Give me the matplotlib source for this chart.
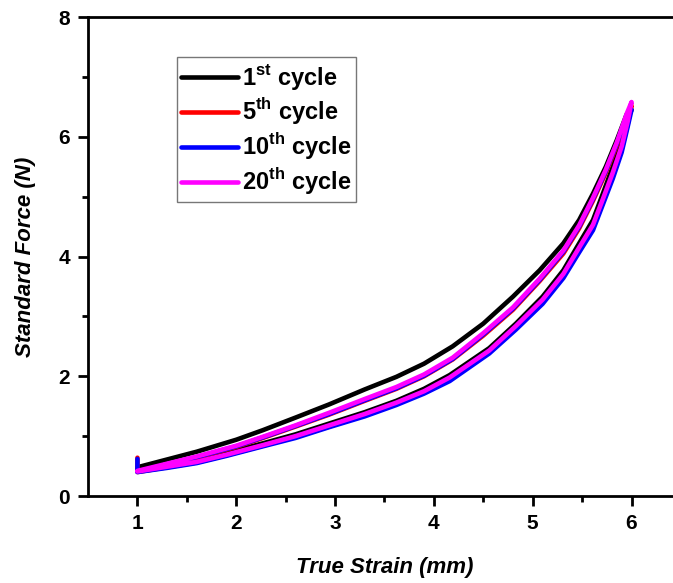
import numpy as np
import matplotlib
matplotlib.use('Agg')
import matplotlib.pyplot as plt

plt.rcParams['font.family'] = ['Liberation Sans', 'DejaVu Sans']
plt.rcParams['mathtext.fontset'] = 'custom'
plt.rcParams['mathtext.bf'] = 'Liberation Sans:bold'
plt.rcParams['mathtext.rm'] = 'Liberation Sans:bold'

# strain grid for the upper branch (going out) and the lower branch (coming back)
strain_up = [1.0, 1.3, 1.6, 2.0, 2.27, 2.6, 2.94, 3.3, 3.62, 3.9, 4.19, 4.5,
             4.8, 5.07, 5.31, 5.47, 5.61, 5.74, 5.85, 5.95, 6.0]
strain_down = [6.0, 5.96, 5.90, 5.81, 5.71, 5.61, 5.47, 5.31, 5.10, 4.83, 4.56,
               4.16, 3.9, 3.62, 3.3, 2.94, 2.6, 2.27, 1.9, 1.6, 1.3, 1.0]

# force readings (N)
c1_up = [0.48, 0.61, 0.74, 0.94, 1.10, 1.31, 1.53, 1.78, 1.99, 2.21, 2.50, 2.88,
         3.33, 3.77, 4.22, 4.61, 5.05, 5.50, 5.94, 6.37, 6.45]
c1_down = [6.45, 6.33, 5.94, 5.50, 5.05, 4.61, 4.22, 3.77, 3.33, 2.88, 2.47,
           2.02, 1.79, 1.59, 1.40, 1.21, 1.03, 0.88, 0.72, 0.60, 0.52, 0.44]

c5_up = [0.41, 0.52, 0.64, 0.82, 0.97, 1.16, 1.36, 1.59, 1.79, 2.00, 2.28, 2.68,
         3.11, 3.59, 4.05, 4.47, 4.93, 5.40, 5.85, 6.33, 6.52]
c5_down = [6.52, 6.20, 5.79, 5.35, 4.91, 4.48, 4.11, 3.67, 3.24, 2.81, 2.40,
           1.95, 1.73, 1.54, 1.35, 1.16, 0.99, 0.84, 0.68, 0.56, 0.48, 0.40]

c10_up = [0.41, 0.53, 0.65, 0.83, 0.98, 1.17, 1.37, 1.60, 1.80, 2.01, 2.29, 2.70,
          3.13, 3.61, 4.08, 4.50, 4.96, 5.43, 5.88, 6.35, 6.45]
c10_down = [6.45, 6.16, 5.74, 5.30, 4.87, 4.44, 4.07, 3.64, 3.21, 2.78, 2.38,
            1.92, 1.71, 1.52, 1.33, 1.15, 0.97, 0.83, 0.67, 0.55, 0.47, 0.40]

c20_up = [0.42, 0.54, 0.66, 0.84, 0.99, 1.18, 1.39, 1.62, 1.82, 2.03, 2.31, 2.72,
          3.15, 3.63, 4.10, 4.52, 4.98, 5.45, 5.90, 6.38, 6.58]
c20_down = [6.58, 6.25, 5.84, 5.40, 4.96, 4.53, 4.15, 3.71, 3.28, 2.84, 2.43,
            1.98, 1.75, 1.56, 1.37, 1.18, 1.00, 0.85, 0.69, 0.57, 0.49, 0.41]

# little jump at the end of the 5th and 10th cycles
c5_end = 0.64
c10_end = 0.62

labels = [r'1$^{\mathbf{st}}$ cycle', r'5$^{\mathbf{th}}$ cycle',
          r'10$^{\mathbf{th}}$ cycle', r'20$^{\mathbf{th}}$ cycle']
colors = ['black', 'red', 'blue', 'magenta']

fig = plt.figure(figsize=(6.73, 5.83), dpi=100)
ax = fig.add_axes([0.1308, 0.1492, 0.881, 0.8216])

cycles = [(c1_up, c1_down, None), (c5_up, c5_down, c5_end),
          (c10_up, c10_down, c10_end), (c20_up, c20_down, None)]
for (up, down, end), col, lab in zip(cycles, colors, labels):
    x = list(strain_up) + list(strain_down)
    y = list(up) + list(down)
    if end is not None:
        x = x + [strain_down[-1]]
        y = y + [end]
    ax.plot(x, y, color=col, lw=3.3, label=lab, solid_joinstyle='round',
            solid_capstyle='round')

ax.set_xlim(0.5, 6.5)
ax.set_ylim(0, 8)
ax.set_xticks([1, 2, 3, 4, 5, 6])
ax.set_xticks(np.arange(1.5, 6.5, 1.0), minor=True)
ax.set_yticks([0, 2, 4, 6, 8])
ax.set_yticks([1, 3, 5, 7], minor=True)
for s in ax.spines.values():
    s.set_linewidth(2)
ax.tick_params(which='major', direction='out', length=7, width=2, labelsize=15, pad=6)
ax.tick_params(which='minor', direction='out', length=4, width=2)
for t in ax.get_xticklabels() + ax.get_yticklabels():
    t.set_fontweight('bold')

ax.set_xlabel('True Strain (mm)', fontsize=16, fontweight='bold', style='italic', labelpad=17)
ax.set_ylabel('Standard Force (N)', fontsize=16, fontweight='bold', style='italic', labelpad=16)

leg = ax.legend(loc='upper left', bbox_to_anchor=(0.2626, 0.902), bbox_transform=fig.transFigure,
                prop={'weight': 'bold', 'size': 17}, fancybox=False, frameon=True,
                edgecolor='#555555', handlelength=2.4, handletextpad=0.15, labelspacing=0.16,
                borderpad=0.2, borderaxespad=0)
leg.get_frame().set_linewidth(1)

fig.savefig('out.png', dpi=100)
